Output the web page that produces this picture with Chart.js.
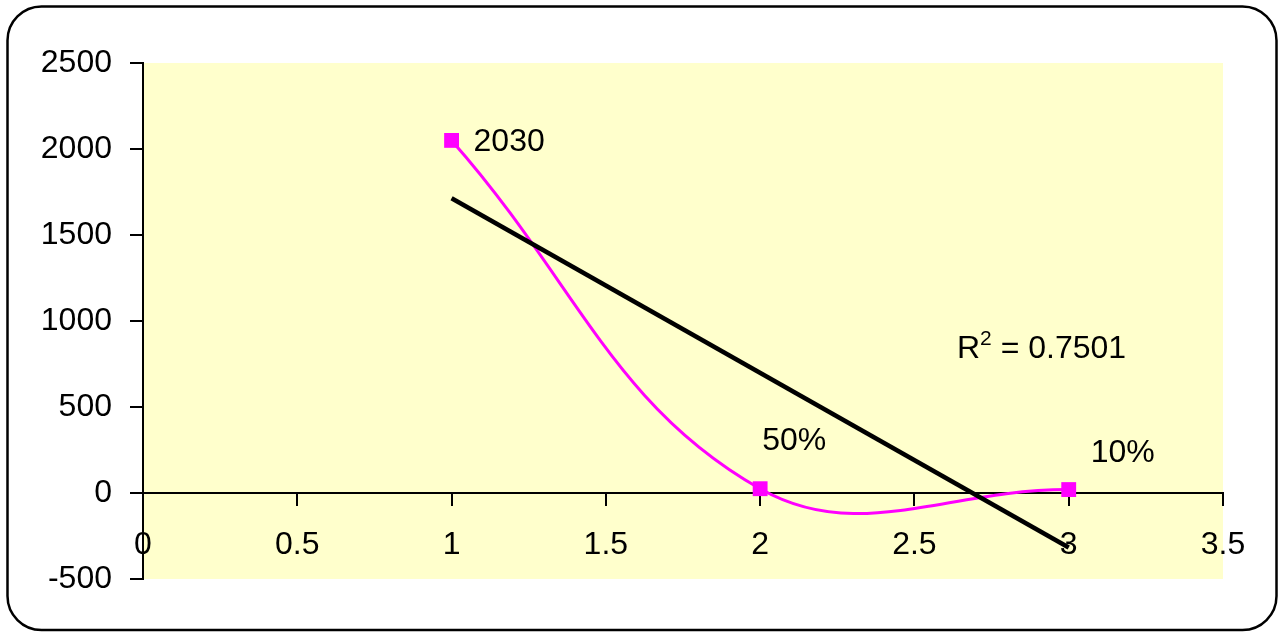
<!DOCTYPE html>
<html>
<head>
<meta charset="utf-8">
<script src="https://cdn.jsdelivr.net/npm/chart.js@4.4.1/dist/chart.umd.min.js"></script>
<style>
  html, body { margin: 0; padding: 0; background: #ffffff; }
  canvas { display: block; }
</style>
</head>
<body>
<canvas id="chart" width="1283" height="632"></canvas>
<script>
// Series
var xValues = [1, 2, 3];
var yValues = [2050, 25, 20];
var pointLabels = ["2030", "50%", "10%"];

// Axis ranges
var xMin = 0, xMax = 3.5, xStep = 0.5;
var yMin = -500, yMax = 2500, yStep = 500;

var rSquaredText = "0.7501";

var FONT = "'Liberation Sans', Arial, sans-serif";

// Linear trendline (least squares) from the series
function linearFit(xs, ys) {
    var n = xs.length, sx = 0, sy = 0, sxy = 0, sxx = 0;
    for (var i = 0; i < n; i++) {
        sx += xs[i]; sy += ys[i]; sxy += xs[i] * ys[i]; sxx += xs[i] * xs[i];
    }
    var slope = (n * sxy - sx * sy) / (n * sxx - sx * sx);
    var icpt = (sy - slope * sx) / n;
    return function (x) { return icpt + slope * x; };
}
var fit = linearFit(xValues, yValues);
var trendX = [xValues[0], xValues[xValues.length - 1]];

// Label offsets from each marker, px
var labelOffsets = [[22, 2], [2, -48], [22, -36]];

// plain numbers, no thousands separator
function plain(v) { return String(v); }

var decorPlugin = {
    id: "decor",
    beforeDraw: function (chart) {
        var ctx = chart.ctx, a = chart.chartArea;
        ctx.save();
        // rounded chart border
        var x0 = 7.5, y0 = 6.5, x1 = 1276.5, y1 = 630, r = 34;
        ctx.beginPath();
        ctx.moveTo(x0 + r, y0);
        ctx.arcTo(x1, y0, x1, y1, r);
        ctx.arcTo(x1, y1, x0, y1, r);
        ctx.arcTo(x0, y1, x0, y0, r);
        ctx.arcTo(x0, y0, x1, y0, r);
        ctx.closePath();
        ctx.lineWidth = 2.5;
        ctx.strokeStyle = "#000000";
        ctx.stroke();
        // plot area fill
        ctx.fillStyle = "#FFFFCC";
        ctx.fillRect(a.left, a.top, a.right - a.left, a.bottom - a.top);
        ctx.restore();
    },
    afterDatasetsDraw: function (chart) {
        var ctx = chart.ctx;
        var meta = chart.getDatasetMeta(1);
        ctx.save();
        ctx.fillStyle = "#000000";
        ctx.font = "32px " + FONT;
        ctx.textAlign = "left";
        ctx.textBaseline = "middle";
        meta.data.forEach(function (pt, i) {
            ctx.fillText(pointLabels[i], pt.x + labelOffsets[i][0], pt.y + labelOffsets[i][1]);
        });
        // R squared annotation
        ctx.textBaseline = "alphabetic";
        var x = 957, base = 358;
        ctx.font = "32px " + FONT;
        ctx.fillText("R", x, base);
        x += ctx.measureText("R").width;
        ctx.font = "21px " + FONT;
        ctx.fillText("2", x, base - 13);
        x += ctx.measureText("2").width;
        ctx.font = "32px " + FONT;
        ctx.fillText(" = " + rSquaredText, x, base);
        ctx.restore();
    }
};

new Chart(document.getElementById("chart"), {
    type: "line",
    data: {
        datasets: [
            {
                label: "Linear trend",
                data: trendX.map(function (x) { return { x: x, y: fit(x) }; }),
                borderColor: "#000000",
                borderWidth: 4.5,
                pointRadius: 0,
                tension: 0,
                fill: false,
                order: 0
            },
            {
                label: "Series",
                data: xValues.map(function (x, i) { return { x: x, y: yValues[i] }; }),
                borderColor: "#FF00FF",
                backgroundColor: "#FF00FF",
                borderWidth: 3,
                pointStyle: "rect",
                pointRadius: 10.5,
                pointBorderWidth: 0,
                tension: 0.4,
                fill: false,
                order: 1
            }
        ]
    },
    options: {
        responsive: false,
        animation: false,
        layout: { padding: { left: 0, top: 63, right: 60, bottom: 53 } },
        plugins: {
            legend: { display: false },
            tooltip: { enabled: false }
        },
        scales: {
            x: {
                type: "linear",
                position: { y: 0 },
                min: xMin,
                max: xMax,
                afterFit: function (s) { s.height = 0; },
                ticks: {
                    stepSize: xStep,
                    color: "#000000",
                    padding: 21,
                    maxRotation: 0,
                    callback: plain,
                    font: { family: FONT, size: 32 }
                },
                grid: {
                    drawOnChartArea: false,
                    drawTicks: true,
                    tickLength: 12,
                    color: "#000000",
                    lineWidth: 2
                },
                border: { color: "#000000", width: 2 }
            },
            y: {
                type: "linear",
                position: "left",
                min: yMin,
                max: yMax,
                afterFit: function (s) { s.width = 143; },
                ticks: {
                    stepSize: yStep,
                    color: "#000000",
                    padding: 18,
                    callback: plain,
                    font: { family: FONT, size: 32 }
                },
                grid: {
                    drawOnChartArea: false,
                    drawTicks: true,
                    tickLength: 13,
                    color: "#000000",
                    lineWidth: 2
                },
                border: { color: "#000000", width: 2 }
            }
        }
    },
    plugins: [decorPlugin]
});
</script>
</body>
</html>
